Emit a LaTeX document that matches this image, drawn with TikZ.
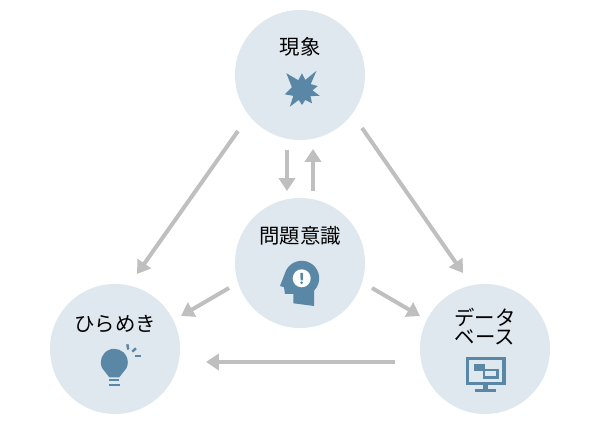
\documentclass[tikz,border=0pt]{standalone}
\usepackage{fontspec}
\setmainfont{Noto Sans CJK JP}
\usepackage{xcolor}
\usepackage{tikz}
\usetikzlibrary{arrows.meta,positioning}
\definecolor{zonefill}{HTML}{DFE8EF}
\definecolor{iconblue}{HTML}{5A87A6}
\definecolor{flowgray}{HTML}{BFBFBF}

\begin{document}
\begin{tikzpicture}[
    x=0.025cm, y=0.025cm,
    zone/.style={circle, fill=zonefill, minimum size=3.25cm, inner sep=0pt},
    caption/.style={align=center, inner sep=0pt, text=black, font=\fontsize{14.5}{13.6}\selectfont},
    flow/.style={draw=flowgray, line width=0.1cm, -{Triangle[length=0.32cm, width=0.4cm]}},
    iconfill/.style={fill=iconblue},
    iconline/.style={draw=iconblue, line width=0.06cm},
]
\useasboundingbox (0,0) rectangle (600,425);

% Circles
\node[zone] (phen) at (300,350) {};
\node[zone] (aware) at (300,162) {};
\node[zone] (idea) at (115,76) {};
\node[zone] (data) at (485,76) {};

% Captions
\node[caption] (phentext) at ([yshift=0.7cm]phen) {現象};
\node[caption] (awaretext) at ([yshift=0.67cm]aware) {問題意識};
\node[caption] (ideatext) at ([yshift=0.62cm]idea) {ひらめき};
\node[caption] (datatext) at ([yshift=0.55cm]data) {データ\\ベース};

% Flows
\draw[flow] ([shift={(-62,-56)}]phen.center) -- ([shift={(22,75)}]idea.center);
\draw[flow] ([shift={(62,-53)}]phen.center) -- ([shift={(-22,76)}]data.center);
\draw[flow] ([shift={(-13,-75)}]phen.center) -- ([shift={(-13,72)}]aware.center);
\draw[flow] ([shift={(13,72)}]aware.center) -- ([shift={(13,-74)}]phen.center);
\draw[flow] ([shift={(-71,-25)}]aware.center) -- ([shift={(66,33)}]idea.center);
\draw[flow] ([shift={(72,-25)}]aware.center) -- ([shift={(-65,33)}]data.center);
\draw[flow] ([shift={(-90,-13)}]data.center) -- ([shift={(91,-13)}]idea.center);

% Burst icon
\begin{scope}[shift={(302,335)}]
\fill[iconfill] (90:16.7) -- (72:10.5) -- (53:24) -- (34:10.5) -- (14:16.2) -- (-2:10.5)
    -- (-18:18.6) -- (-36:10.5) -- (-53:16.6) -- (-72:10.5) -- (-90:15) -- (-108:10.5)
    -- (-126:20.7) -- (-146:10.5) -- (-166:17.8) -- (165:10.5) -- (133:22.9) -- (111:10.5) -- cycle;
\end{scope}

% Head icon
\begin{scope}[shift={(301.7,146.7)}]
\fill[iconfill] (-21.7,-7.7) -- (163:17.5) arc[start angle=163, end angle=-45, radius=17.5]
    -- (12.3,-27.7) -- (-8.3,-25) -- (-8.3,-15.7) -- (-16.7,-15.7) -- (-17.7,-9) -- cycle;
\fill[white] (0,0) circle[radius=9];
\fill[iconfill] (-1.1,-2) -- (-1.4,5.5) -- (1.4,5.5) -- (1.1,-2) -- cycle;
\fill[iconfill] (0,-4.5) circle[radius=1.5];
\end{scope}

% Bulb icon
\begin{scope}[shift={(114.3,62.7)}]
\fill[iconfill] (-5,-15) -- (205:13.5) arc[start angle=205, end angle=-25, radius=13.5] -- (5,-15) -- cycle;
\draw[iconline] (-5,-18) -- (5,-18);
\draw[iconline] (-5,-23) -- (5.5,-23);
\draw[iconline] (13,18) -- (14,12.7);
\draw[iconline] (18,10.7) -- (21.7,14);
\draw[iconline] (20.7,6) -- (26.3,6);
\end{scope}

% Monitor icon
\begin{scope}[shift={(485.7,54.3)}]
\draw[draw=iconblue, line width=0.08cm] (-18.5,-12.5) rectangle (18.2,12.5);
\fill[iconfill] (-11.7,-0.3) rectangle (-0.7,6.3);
\draw[iconline] (-1.7,-7) rectangle (11.7,0.7);
\fill[iconfill] (-2.3,-19.3) rectangle (2.7,-13.7);
\fill[iconfill] (-10.7,-21) rectangle (10.3,-18.7);
\end{scope}
\end{tikzpicture}
\end{document}
